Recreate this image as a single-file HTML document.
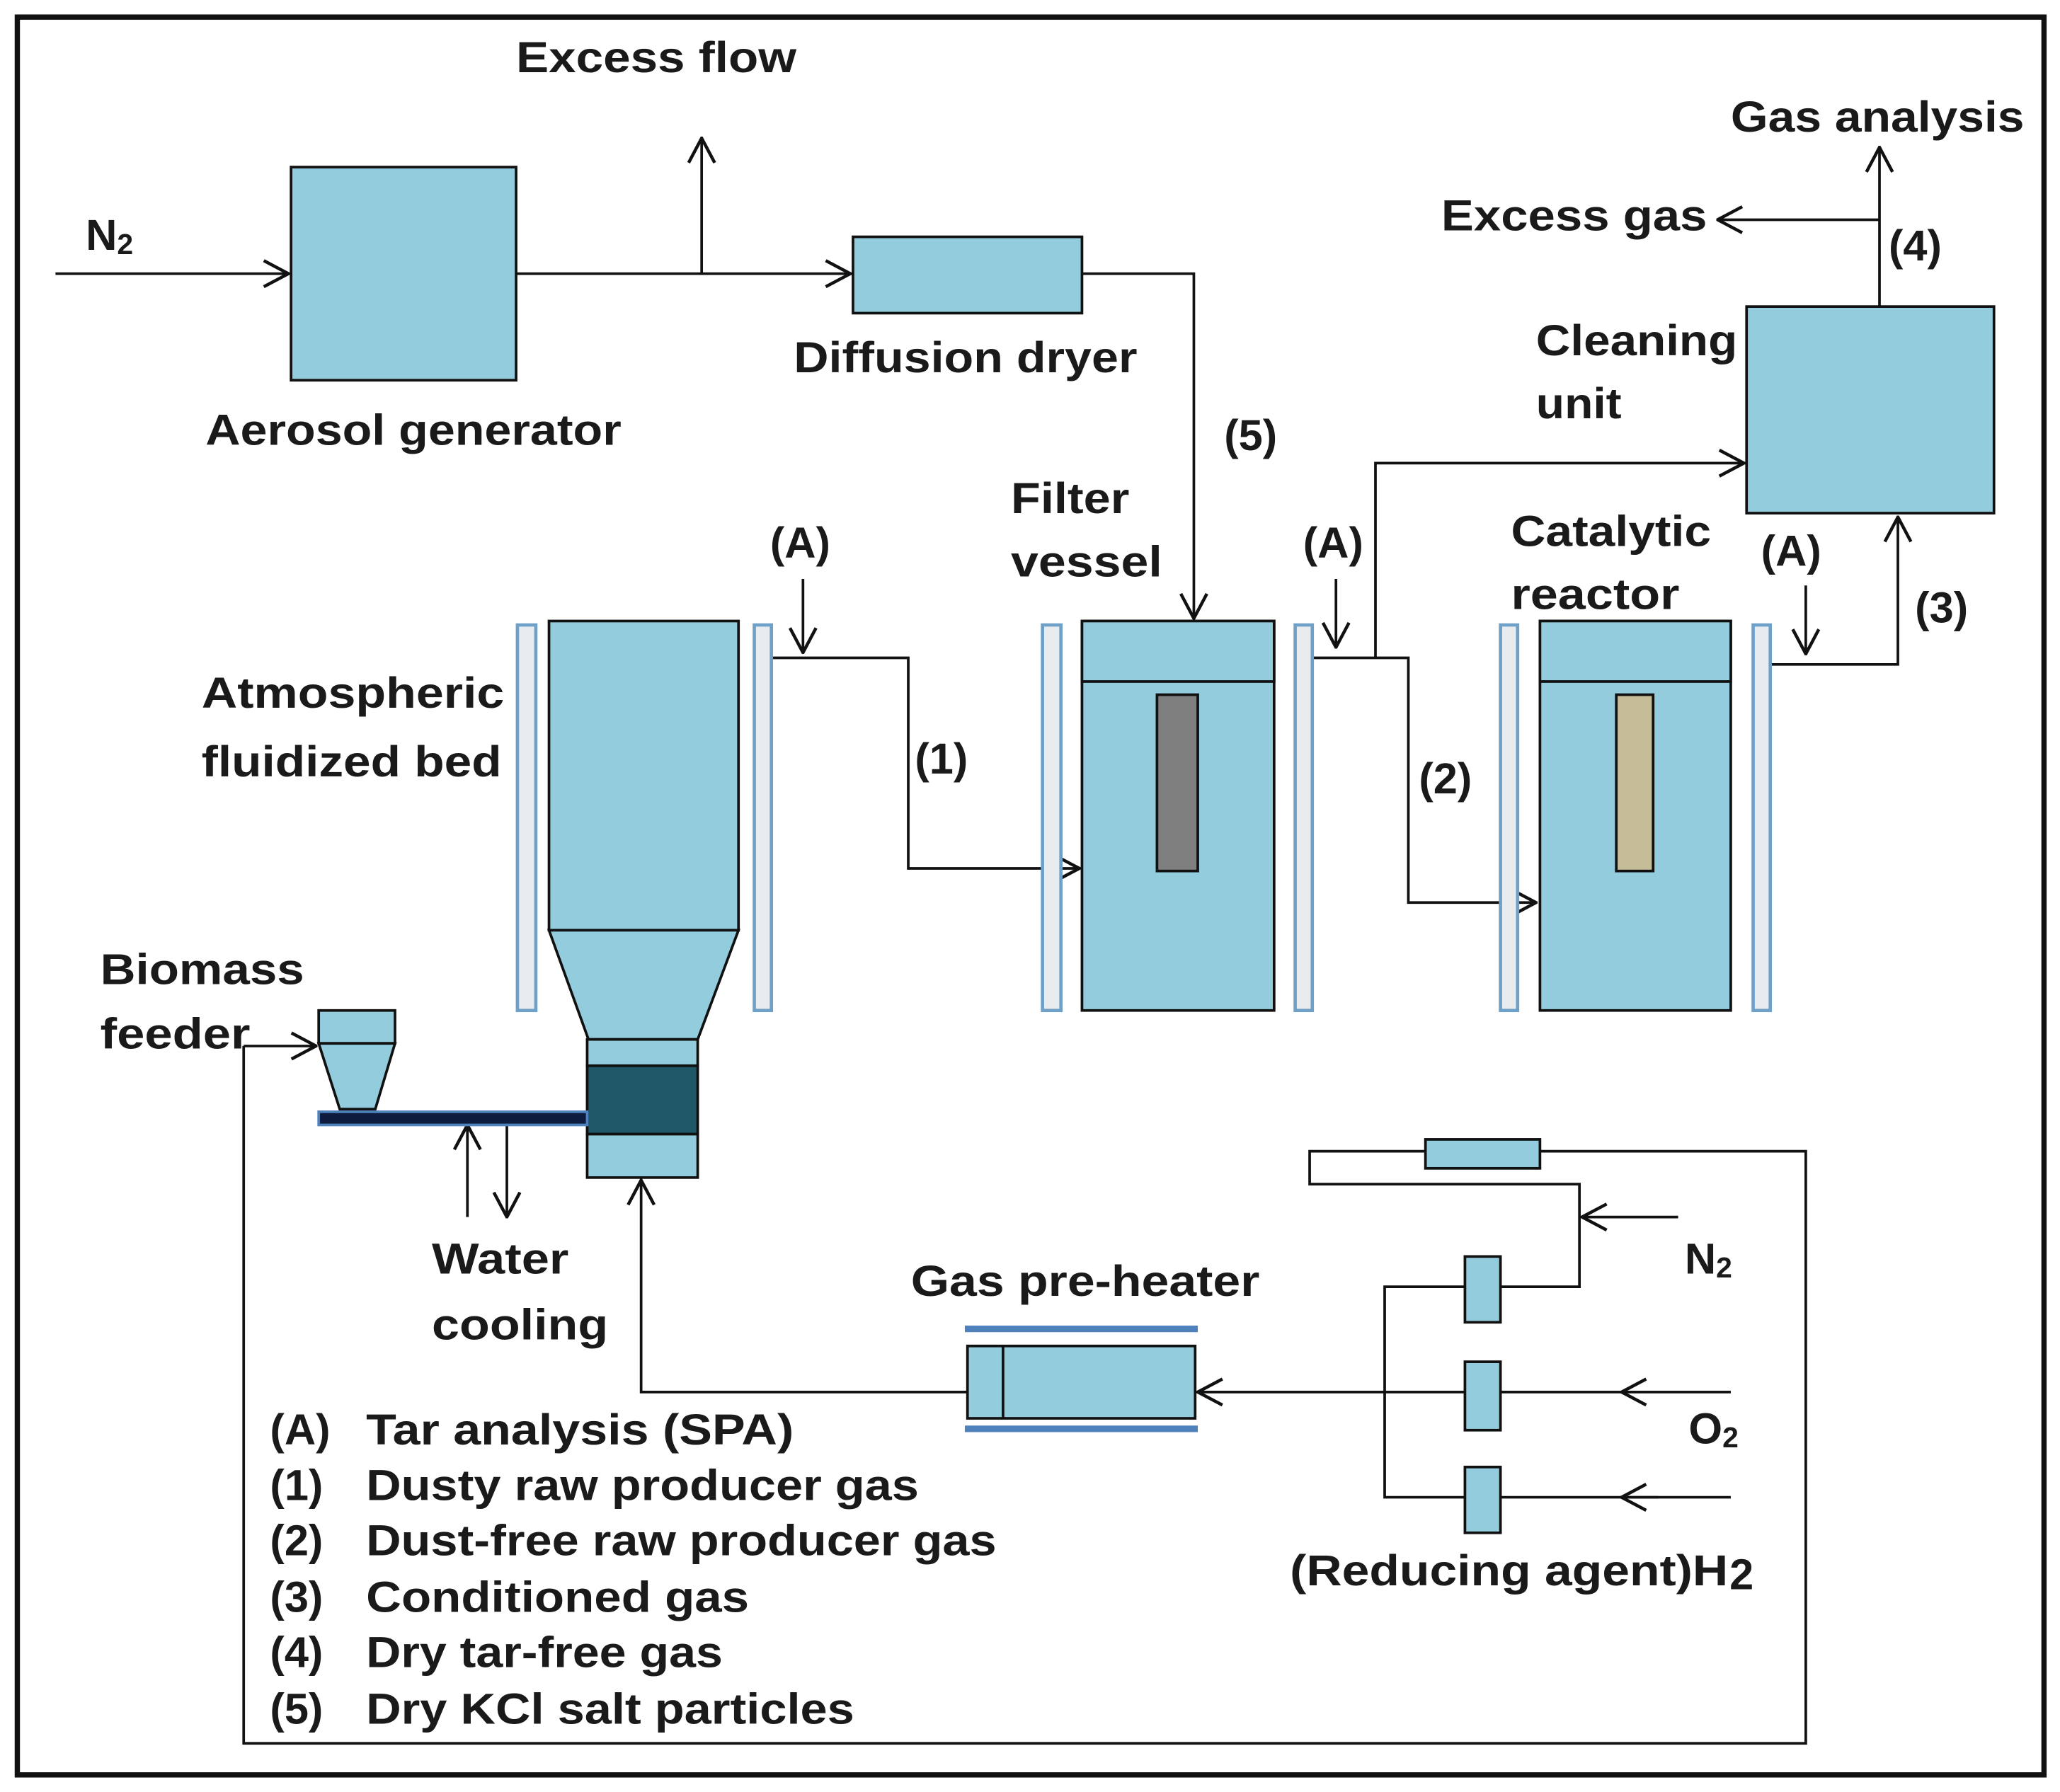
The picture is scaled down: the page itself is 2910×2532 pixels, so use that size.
<!DOCTYPE html>
<html><head><meta charset="utf-8"><style>
html,body{margin:0;padding:0;background:#fff}
svg{display:block}
text{font-family:"Liberation Sans",Arial,sans-serif;font-weight:bold;font-size:33px;fill:#1a1a1a}
</style></head><body>
<svg width="2910" height="2532" viewBox="0 0 1565 1362" xmlns="http://www.w3.org/2000/svg">
<defs>
<marker id="a" viewBox="0 0 20 20" refX="19" refY="10" markerWidth="22" markerHeight="22" markerUnits="userSpaceOnUse" orient="auto">
<path d="M2,1 L19,10 L2,19" fill="none" stroke="#111" stroke-width="2.2"/>
</marker>
</defs>
<rect x="0" y="0" width="1565" height="1362" fill="#fff"/>
<rect x="13" y="13" width="1540" height="1336" fill="none" stroke="#111" stroke-width="4"/>
<g stroke="#111" stroke-width="2" fill="none">
<line x1="42" y1="208" x2="219" y2="208" marker-end="url(#a)"/>
<line x1="392" y1="208" x2="646" y2="208" marker-end="url(#a)"/>
<line x1="533" y1="208" x2="533" y2="105" marker-end="url(#a)"/>
<polyline points="822,208 907,208 907,470" marker-end="url(#a)"/>
<polyline points="586,500 690,500 690,660 820,660" marker-end="url(#a)"/>
<line x1="610" y1="440" x2="610" y2="496" marker-end="url(#a)"/>
<polyline points="997,500 1070,500 1070,686 1167,686" marker-end="url(#a)"/>
<polyline points="1045,500 1045,352 1325,352" marker-end="url(#a)"/>
<line x1="1015" y1="440" x2="1015" y2="492" marker-end="url(#a)"/>
<polyline points="1345,505 1442,505 1442,393" marker-end="url(#a)"/>
<line x1="1372" y1="445" x2="1372" y2="497" marker-end="url(#a)"/>
<line x1="1428" y1="233" x2="1428" y2="112" marker-end="url(#a)"/>
<line x1="1428" y1="167" x2="1305" y2="167" marker-end="url(#a)"/>
<line x1="185" y1="795" x2="240" y2="795" marker-end="url(#a)"/>
<polyline points="185,795 185,1325 1372,1325 1372,875 1170,875"/>
<polyline points="1083,875 995,875 995,900 1200,900 1200,978 1052,978 1052,1138 1315,1138"/>
<line x1="1275" y1="925" x2="1202" y2="925" marker-end="url(#a)"/>
<line x1="1315" y1="1058" x2="1232" y2="1058" marker-end="url(#a)"/>
<line x1="1260" y1="1138" x2="1232" y2="1138" marker-end="url(#a)"/>
<line x1="1232" y1="1058" x2="910" y2="1058" marker-end="url(#a)"/>
<polyline points="735,1058 487,1058 487,897" marker-end="url(#a)"/>
<line x1="355" y1="925" x2="355" y2="855" marker-end="url(#a)"/>
<line x1="385" y1="855" x2="385" y2="925" marker-end="url(#a)"/>
</g>
<g stroke="#111" stroke-width="2" fill="#93CDDD">
<rect x="221" y="127" width="171" height="162"/>
<rect x="648" y="180" width="174" height="58"/>
<rect x="1327" y="233" width="188" height="157"/>
<rect x="417" y="472" width="144" height="235"/>
<polygon points="417,707 561,707 530,790 447,790"/>
<rect x="446" y="790" width="84" height="20"/>
<rect x="446" y="810" width="84" height="52" fill="#215868"/>
<rect x="446" y="862" width="84" height="33"/>
<rect x="822" y="472" width="146" height="296"/>
<rect x="822" y="472" width="146" height="46"/>
<rect x="879" y="528" width="31" height="134" fill="#7f7f7f"/>
<rect x="1170" y="472" width="145" height="296"/>
<rect x="1170" y="472" width="145" height="46"/>
<rect x="1228" y="528" width="28" height="134" fill="#c4bd97"/>
<rect x="242" y="768" width="58" height="25"/>
<polygon points="242,793 300,793 285,843 258,843"/>
<rect x="1083" y="866" width="87" height="22"/>
<rect x="1113" y="955" width="27" height="50"/>
<rect x="1113" y="1035" width="27" height="52"/>
<rect x="1113" y="1115" width="27" height="50"/>
<rect x="735" y="1023" width="173" height="55"/>
</g>
<line x1="762" y1="1023" x2="762" y2="1078" stroke="#111" stroke-width="2"/>
<line x1="733" y1="1010" x2="910" y2="1010" stroke="#4f81bd" stroke-width="5"/>
<line x1="733" y1="1086" x2="910" y2="1086" stroke="#4f81bd" stroke-width="5"/>
<rect x="242" y="845" width="204" height="10" fill="#0d1b3e" stroke="#4f81bd" stroke-width="2"/>
<g fill="#e8ecee" stroke="#6fa0c8" stroke-width="2.5">
<rect x="393" y="475" width="14" height="293"/>
<rect x="573" y="475" width="13" height="293"/>
<rect x="792" y="475" width="14" height="293"/>
<rect x="984" y="475" width="13" height="293"/>
<rect x="1140" y="475" width="13" height="293"/>
<rect x="1332" y="475" width="13" height="293"/>
</g>
<text x="392" y="55" textLength="213" lengthAdjust="spacingAndGlyphs">Excess flow</text>
<text x="65" y="190">N<tspan font-size="22" dy="3">2</tspan></text>
<text x="156" y="338" textLength="316" lengthAdjust="spacingAndGlyphs">Aerosol generator</text>
<text x="603" y="283" textLength="261" lengthAdjust="spacingAndGlyphs">Diffusion dryer</text>
<text x="930" y="342">(5)</text>
<text x="1315" y="100" textLength="223" lengthAdjust="spacingAndGlyphs">Gas analysis</text>
<text x="1095" y="175" textLength="202" lengthAdjust="spacingAndGlyphs">Excess gas</text>
<text x="1435" y="198">(4)</text>
<text x="1167" y="270" textLength="153" lengthAdjust="spacingAndGlyphs">Cleaning</text>
<text x="1167" y="318" textLength="65" lengthAdjust="spacingAndGlyphs">unit</text>
<text x="768" y="390" textLength="90" lengthAdjust="spacingAndGlyphs">Filter</text>
<text x="768" y="438" textLength="115" lengthAdjust="spacingAndGlyphs">vessel</text>
<text x="585" y="424">(A)</text>
<text x="990" y="424">(A)</text>
<text x="1338" y="430">(A)</text>
<text x="1148" y="415" textLength="152" lengthAdjust="spacingAndGlyphs">Catalytic</text>
<text x="1148" y="463" textLength="128" lengthAdjust="spacingAndGlyphs">reactor</text>
<text x="1455" y="473">(3)</text>
<text x="153" y="538" textLength="230" lengthAdjust="spacingAndGlyphs">Atmospheric</text>
<text x="153" y="590" textLength="228" lengthAdjust="spacingAndGlyphs">fluidized bed</text>
<text x="695" y="588">(1)</text>
<text x="1078" y="603">(2)</text>
<text x="76" y="748" textLength="155" lengthAdjust="spacingAndGlyphs">Biomass</text>
<text x="76" y="797" textLength="114" lengthAdjust="spacingAndGlyphs">feeder</text>
<text x="328" y="968" textLength="104" lengthAdjust="spacingAndGlyphs">Water</text>
<text x="328" y="1018" textLength="134" lengthAdjust="spacingAndGlyphs">cooling</text>
<text x="692" y="985" textLength="265" lengthAdjust="spacingAndGlyphs">Gas pre-heater</text>
<text x="1280" y="968">N<tspan font-size="22" dy="3">2</tspan></text>
<text x="1283" y="1097">O<tspan font-size="22" dy="3">2</tspan></text>
<text x="980" y="1205" textLength="333" lengthAdjust="spacingAndGlyphs">(Reducing agent)H</text>
<text x="1314" y="1208" font-size="22">2</text>
<text x="205" y="1098">(A)</text><text x="278" y="1098" textLength="325" lengthAdjust="spacingAndGlyphs">Tar analysis (SPA)</text>
<text x="205" y="1140">(1)</text><text x="278" y="1140" textLength="420" lengthAdjust="spacingAndGlyphs">Dusty raw producer gas</text>
<text x="205" y="1182">(2)</text><text x="278" y="1182" textLength="479" lengthAdjust="spacingAndGlyphs">Dust-free raw producer gas</text>
<text x="205" y="1225">(3)</text><text x="278" y="1225" textLength="291" lengthAdjust="spacingAndGlyphs">Conditioned gas</text>
<text x="205" y="1267">(4)</text><text x="278" y="1267" textLength="271" lengthAdjust="spacingAndGlyphs">Dry tar-free gas</text>
<text x="205" y="1310">(5)</text><text x="278" y="1310" textLength="371" lengthAdjust="spacingAndGlyphs">Dry KCl salt particles</text>
</svg>
</body></html>
